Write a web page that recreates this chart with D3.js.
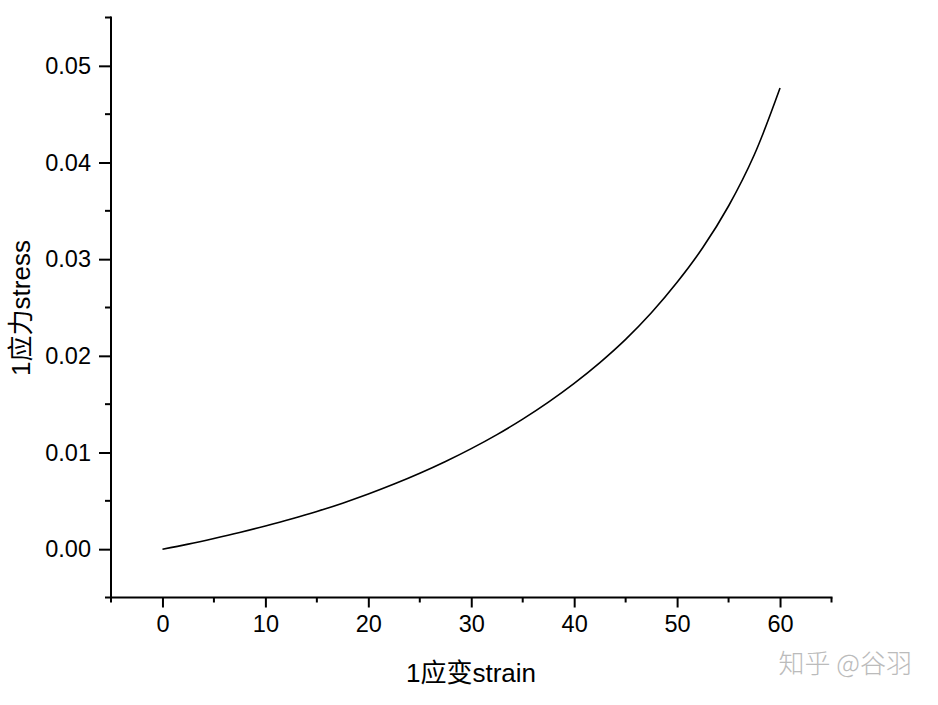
<!DOCTYPE html>
<html><head><meta charset="utf-8">
<script src="https://cdn.jsdelivr.net/npm/d3@7"></script>
<style>body{margin:0;background:#fff;}svg{display:block;}</style>
</head><body>
<script>
const strain = [0,2.5,5,7.5,10,12.5,15,17.5,20,22.5,25,27.5,30,32.5,35,37.5,40,42.5,45,47.5,50,52.5,55,57.5,60];
const stress = [0,0.00052,0.0011,0.00172,0.0024,0.00312,0.0039,0.00476,0.0057,0.00673,0.00785,0.00907,0.0104,0.01185,0.01345,0.01521,0.01715,0.0193,0.0217,0.02445,0.0276,0.0312,0.0355,0.0408,0.0477];
const xTicks = [0,10,20,30,40,50,60];
const xMinor = [-5,5,15,25,35,45,55,65];
const yTicks = [0,0.01,0.02,0.03,0.04,0.05];
const yMinor = [-0.005,0.005,0.015,0.025,0.035,0.045,0.055];
const xTitle = "1应变strain";
const yTitle = "1应力stress";
const watermark = "知乎 @谷羽";

const W=938,H=705;
const svg=d3.select("body").append("svg").attr("width",W).attr("height",H);
const x=d3.scaleLinear().domain([-5,65]).range([111,831.5]);
const y=d3.scaleLinear().domain([-0.005,0.055]).range([597.5,17.5]);
const font="'Liberation Sans', Arial, 'Noto Sans CJK SC', sans-serif";

const gx=svg.append("g").attr("transform",`translate(0,${y(-0.005)})`);
gx.call(d3.axisBottom(x).tickValues(xTicks).tickSize(10).tickPadding(8).tickFormat(d3.format("d")));
gx.call(g=>g.select(".domain").remove());
gx.append("line").attr("x1",x(-5)-1).attr("x2",x(65)+1).attr("stroke","#000").attr("stroke-width",2);
gx.selectAll(".minor").data(xMinor).join("line").attr("class","minor")
  .attr("x1",d=>x(d)).attr("x2",d=>x(d)).attr("y1",0).attr("y2",5).attr("stroke","#000").attr("stroke-width",2);

const gy=svg.append("g").attr("transform",`translate(${x(-5)},0)`);
gy.call(d3.axisLeft(y).tickValues(yTicks).tickSize(12).tickPadding(8).tickFormat(d3.format(".2f")));
gy.call(g=>g.select(".domain").remove());
gy.append("line").attr("y1",y(-0.005)+1).attr("y2",y(0.055)-1).attr("stroke","#000").attr("stroke-width",2);
gy.selectAll(".minor").data(yMinor).join("line").attr("class","minor")
  .attr("y1",d=>y(d)).attr("y2",d=>y(d)).attr("x1",0).attr("x2",-6).attr("stroke","#000").attr("stroke-width",2);

svg.selectAll(".tick line").attr("stroke","#000").attr("stroke-width",2);
svg.selectAll(".tick text").attr("font-family",font).attr("font-size",23.5).attr("fill","#000");

svg.append("path").datum(strain.map((d,i)=>[d,stress[i]]))
  .attr("d",d3.line().x(d=>x(d[0])).y(d=>y(d[1])).curve(d3.curveCatmullRom))
  .attr("fill","none").attr("stroke","#000").attr("stroke-width",1.6);

svg.append("text").attr("x",471).attr("y",682).attr("text-anchor","middle")
  .attr("font-family",font).attr("font-size",26).attr("fill","#000").text(xTitle);
svg.append("text").attr("transform","translate(30,308) rotate(-90)").attr("text-anchor","middle")
  .attr("font-family",font).attr("font-size",26).attr("fill","#000").text(yTitle);
svg.append("text").attr("x",912).attr("y",673).attr("text-anchor","end")
  .attr("font-family","'Noto Sans CJK SC', sans-serif").attr("font-size",26).attr("font-weight",300)
  .attr("fill","#bbb").text(watermark);
</script>
</body></html>
